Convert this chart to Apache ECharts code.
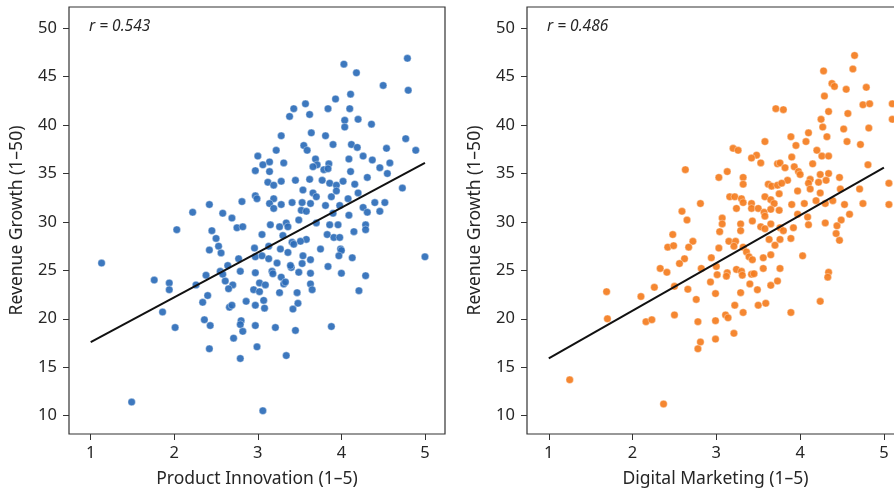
<!DOCTYPE html>
<html>
<head>
<meta charset="utf-8">
<script src="https://cdn.jsdelivr.net/npm/echarts@6/dist/echarts.min.js"></script>
<style>html,body{margin:0;padding:0;background:#fff}#chart{width:894px;height:494px}</style>
</head>
<body>
<div id="chart"></div>
<script>
const xTicks = [1, 2, 3, 4, 5];
const yTicks = [10, 15, 20, 25, 30, 35, 40, 45, 50];
const xNameLeft = 'Product Innovation (1–5)';
const xNameRight = 'Digital Marketing (1–5)';
const yName = 'Revenue Growth (1–50)';
const rLeft = 'r = 0.543';
const rRight = 'r = 0.486';
const fitLeft = [[1, 17.6], [5, 36.1]];
const fitRight = [[1, 15.9], [5, 35.6]];

const innovationPoints = [
[4.79,46.9],[4.03,46.3],[4.18,45.4],[4.50,44.1],[4.80,43.6],[4.11,43.2],[3.57,42.2],[3.43,41.7],[3.93,42.7],[3.84,41.7],[4.10,41.7],[3.38,40.9],[3.62,41.1],[4.04,40.5],[4.20,40.6],[4.04,39.8],[4.36,40.1],[3.64,39.2],[3.28,38.9],[3.81,38.9],[4.77,38.6],[4.89,37.4],[3.55,37.9],[3.59,37.4],[3.90,38.0],[4.12,38.0],[4.19,37.7],[3.22,37.4],[4.54,37.6],[3.00,36.8],[3.14,36.2],[3.06,35.9],[3.31,36.1],[3.69,36.5],[4.09,36.5],[4.26,36.8],[4.37,36.4],[3.71,35.9],[3.85,36.0],[4.58,36.1],[2.97,35.3],[3.14,35.2],[3.66,35.7],[3.79,35.4],[3.84,35.5],[4.11,35.2],[4.46,35.6],[4.31,34.6],[4.55,35.0],[3.12,34.1],[3.19,33.8],[3.28,34.2],[3.45,34.3],[3.62,34.4],[3.77,34.3],[3.86,34.0],[3.94,33.8],[4.02,34.2],[4.16,33.9],[4.73,33.5],[3.54,33.3],[3.66,33.0],[3.94,33.2],[2.97,32.7],[2.99,32.4],[3.19,32.4],[3.70,32.6],[3.88,32.6],[4.08,32.4],[4.20,33.0],[3.14,31.9],[3.28,31.8],[3.41,32.0],[3.53,32.0],[3.63,31.9],[3.81,31.7],[3.98,31.7],[4.26,31.5],[4.40,32.0],[4.52,32.0],[2.42,31.8],[2.22,31.0],[2.81,32.1],[2.58,30.9],[2.69,30.4],[2.75,29.4],[2.82,29.5],[3.19,31.4],[3.52,31.2],[3.58,31.1],[3.90,30.9],[4.31,31.0],[4.46,31.1],[4.09,30.7],[3.34,29.9],[3.49,30.2],[3.70,29.9],[3.86,29.7],[3.96,29.7],[4.29,29.7],[4.29,29.2],[3.15,29.7],[3.26,29.5],[3.36,29.5],[4.15,29.0],[2.03,29.2],[2.45,29.1],[2.50,28.3],[3.05,28.7],[3.58,28.2],[3.51,28.0],[3.83,28.7],[3.91,28.4],[3.98,28.4],[3.30,28.6],[3.41,27.9],[2.53,27.5],[2.96,27.3],[3.13,27.5],[3.27,27.2],[3.75,27.2],[3.99,27.2],[2.42,27.1],
[1.13,25.75],[2.56,26.8],[3.36,26.85],[3.43,27.7],[4.00,27.05],[4.13,26.3],[5.00,26.4],[3.97,26.5],[3.54,26.5],[3.63,26.1],[3.53,25.7],[2.97,26.4],[3.05,26.5],[3.13,26.2],[3.23,25.75],[3.40,25.3],[3.39,25.5],[2.77,26.2],[2.64,25.5],[2.55,24.9],[2.58,24.6],[2.79,24.9],[2.97,24.75],[3.17,24.9],[3.18,24.65],[3.49,24.8],[3.63,24.7],[3.84,25.4],[4.00,24.7],[4.29,24.45],[2.38,24.5],[2.26,23.5],[1.76,24.0],[1.94,23.7],[1.94,23.0],[2.61,23.9],[2.70,23.5],[3.02,23.7],[3.09,23.5],[3.28,24.3],[3.31,23.6],[3.33,23.8],[3.63,23.6],[3.65,23.0],[2.65,23.1],[2.95,23.0],[3.02,22.8],[3.26,22.7],[3.47,22.7],[4.21,22.9],[2.40,22.4],[2.34,21.7],[2.66,21.2],[2.69,21.4],[2.86,21.8],[3.07,21.9],[3.08,21.1],[3.48,21.6],[3.42,21.0],[2.97,21.4],[1.86,20.7],[2.36,19.9],[2.43,19.3],[2.80,19.8],[2.79,19.4],[2.82,18.7],[2.97,19.3],[3.21,19.1],[2.01,19.1],[3.45,18.8],[3.88,19.2],[2.71,18.0],[2.99,17.1],[2.42,16.9],[2.79,15.9],[3.34,16.2],[1.49,11.4],[3.06,10.5]
];

const marketingPoints = [
[4.65,47.2],[4.63,45.8],[4.28,45.6],[4.38,44.3],[4.41,44.0],[4.55,43.7],[4.79,43.9],[4.29,43.0],[4.75,42.1],[4.83,42.2],[5.10,42.2],[3.71,41.7],[3.80,41.6],[4.34,41.4],[4.57,41.2],[5.10,40.6],[4.25,40.6],[4.27,39.8],[4.52,39.6],[4.82,39.7],[4.10,39.2],[3.89,38.8],[4.32,38.8],[3.58,38.3],[4.07,38.3],[4.56,38.3],[3.95,37.9],[4.72,38.0],[3.20,37.6],[3.26,37.4],[4.20,37.4],[3.48,36.9],[3.42,36.6],[3.53,36.1],[3.90,36.7],[4.26,36.8],[4.34,36.8],[2.63,35.4],[3.13,35.2],[3.03,34.6],[3.73,36.0],[3.76,36.1],[3.82,35.6],[3.93,35.7],[4.15,36.0],[3.98,35.2],[4.00,34.9],[4.24,34.9],[4.34,35.0],[4.47,34.6],[3.85,34.3],[4.12,34.4],[4.10,34.0],[4.22,34.1],[4.31,34.3],[3.32,34.6],[3.32,33.9],[3.62,33.9],[3.66,33.7],[3.73,33.8],[3.78,34.0],[4.48,33.4],[4.71,33.4],[5.06,34.0],[4.81,35.9],[3.75,32.9],[3.97,33.2],[4.12,33.4],[4.24,33.0],[3.16,32.6],[3.22,32.6],[3.30,32.4],[3.58,32.6],[3.65,32.3],[4.19,32.2],[4.39,32.2],[2.81,31.9],[2.59,31.1],[3.07,30.4],[3.32,32.0],[3.42,31.9],[3.69,31.9],[3.90,31.8],[4.05,31.9],[4.30,31.9],[4.53,31.8],[4.75,31.9],[5.06,31.8],[3.24,31.4],[3.42,31.4],[3.50,31.4],[3.57,31.0],[3.65,31.3],[3.75,31.2],[3.97,30.8],[2.65,30.2],[3.07,29.8],[3.29,29.8],[3.43,30.1],[3.58,30.6],[3.65,29.8],[4.09,30.5],[4.10,29.7],[4.30,29.9],[4.59,30.8],[4.49,30.2],[3.53,29.5],[3.58,29.3],[3.76,29.4],[3.80,29.1],[3.92,29.4],[3.29,29.1],[3.04,29.0],[4.44,29.6],[4.43,28.8],[2.48,28.7],[2.72,28.0],[3.15,28.0],[3.23,28.0],[3.63,28.2],[3.76,28.2],[3.89,28.3],[4.47,28.1],[2.42,27.4],[2.49,27.55],[2.67,27.4],[3.03,27.3],[3.21,27.5],[3.32,27.4],
[3.36,26.9],[3.39,26.4],[3.43,26.1],[3.56,26.3],[3.65,26.6],[3.70,27.6],[4.03,26.5],[2.62,26.2],[2.56,25.7],[2.94,26.3],[3.00,25.4],[3.01,24.55],[2.82,25.2],[2.33,25.2],[2.41,24.8],[3.13,24.75],[3.12,24.4],[3.24,25.1],[3.30,24.9],[3.31,24.5],[3.42,24.6],[3.45,24.65],[3.56,25.2],[3.76,25.2],[4.34,24.8],[4.33,24.3],[1.69,22.8],[2.10,22.3],[2.26,23.25],[2.50,23.35],[2.66,23.05],[2.76,22.0],[2.93,23.8],[2.99,22.6],[3.29,22.7],[3.40,23.6],[3.49,23.0],[3.65,23.45],[3.73,23.9],[3.22,21.4],[3.50,21.4],[3.59,21.6],[4.24,21.8],[2.50,20.4],[3.11,20.4],[3.32,20.65],[3.89,20.65],[3.14,20.1],[1.70,20.0],[2.16,19.7],[2.23,19.9],[2.78,19.7],[2.99,19.8],[2.81,17.6],[2.78,16.9],[2.99,17.9],[3.21,18.5],[1.25,13.7],[2.37,11.2]
];

const FONT = '"Noto Sans", "Open Sans", sans-serif';
const TXT = '#262626';
const chart = echarts.init(document.getElementById('chart'), null, {renderer: 'canvas'});

function xAxis(idx, name) {
  return {
    type: 'value', gridIndex: idx, min: 0.74, max: 5.24,
    name: name, nameLocation: 'middle', nameGap: 36,
    nameTextStyle: {fontFamily: FONT, fontSize: 17.5, color: TXT},
    axisLine: {show: false},
    axisTick: {show: true, length: 6, lineStyle: {color: '#333', width: 1}, customValues: xTicks},
    axisLabel: {fontFamily: FONT, fontSize: 16.5, color: TXT, margin: 11, customValues: xTicks},
    splitLine: {show: false}
  };
}
function yAxis(idx) {
  return {
    type: 'value', gridIndex: idx, min: 8.1, max: 52.2,
    name: yName, nameLocation: 'middle', nameGap: 43, nameRotate: 90,
    nameTextStyle: {fontFamily: FONT, fontSize: 17.5, color: TXT},
    axisLine: {show: false},
    axisTick: {show: true, length: 6, lineStyle: {color: '#333', width: 1}, customValues: yTicks},
    axisLabel: {fontFamily: FONT, fontSize: 16.5, color: TXT, margin: 12, customValues: yTicks},
    splitLine: {show: false}
  };
}

chart.setOption({
  animation: false,
  backgroundColor: '#fff',
  grid: [
    {left: 69, top: 7, width: 376, height: 427, show: true, borderColor: '#333', borderWidth: 1.2, backgroundColor: 'transparent', outerBoundsMode: 'none'},
    {left: 527, top: 7, width: 377, height: 427, show: true, borderColor: '#333', borderWidth: 1.2, backgroundColor: 'transparent', outerBoundsMode: 'none'}
  ],
  xAxis: [xAxis(0, xNameLeft), xAxis(1, xNameRight)],
  yAxis: [yAxis(0), yAxis(1)],
  graphic: [
    {type: 'text', left: 89, top: 19, style: {text: rLeft, fontFamily: FONT, fontSize: 15.5, fontStyle: 'italic', fill: TXT}},
    {type: 'text', left: 547, top: 19, style: {text: rRight, fontFamily: FONT, fontSize: 15.5, fontStyle: 'italic', fill: TXT}}
  ],
  series: [
    {type: 'scatter', xAxisIndex: 0, yAxisIndex: 0, data: innovationPoints, symbolSize: 7.5,
     itemStyle: {color: '#2c6db8', opacity: 0.92, borderColor: '#fff', borderWidth: 0.4}},
    {type: 'line', xAxisIndex: 0, yAxisIndex: 0, data: fitLeft, symbol: 'none', z: 5,
     lineStyle: {color: '#111', width: 2}},
    {type: 'scatter', xAxisIndex: 1, yAxisIndex: 1, data: marketingPoints, symbolSize: 7.5,
     itemStyle: {color: '#f47d1f', opacity: 0.92, borderColor: '#fff', borderWidth: 0.4}},
    {type: 'line', xAxisIndex: 1, yAxisIndex: 1, data: fitRight, symbol: 'none', z: 5,
     lineStyle: {color: '#111', width: 2}}
  ]
});
</script>
</body>
</html>
